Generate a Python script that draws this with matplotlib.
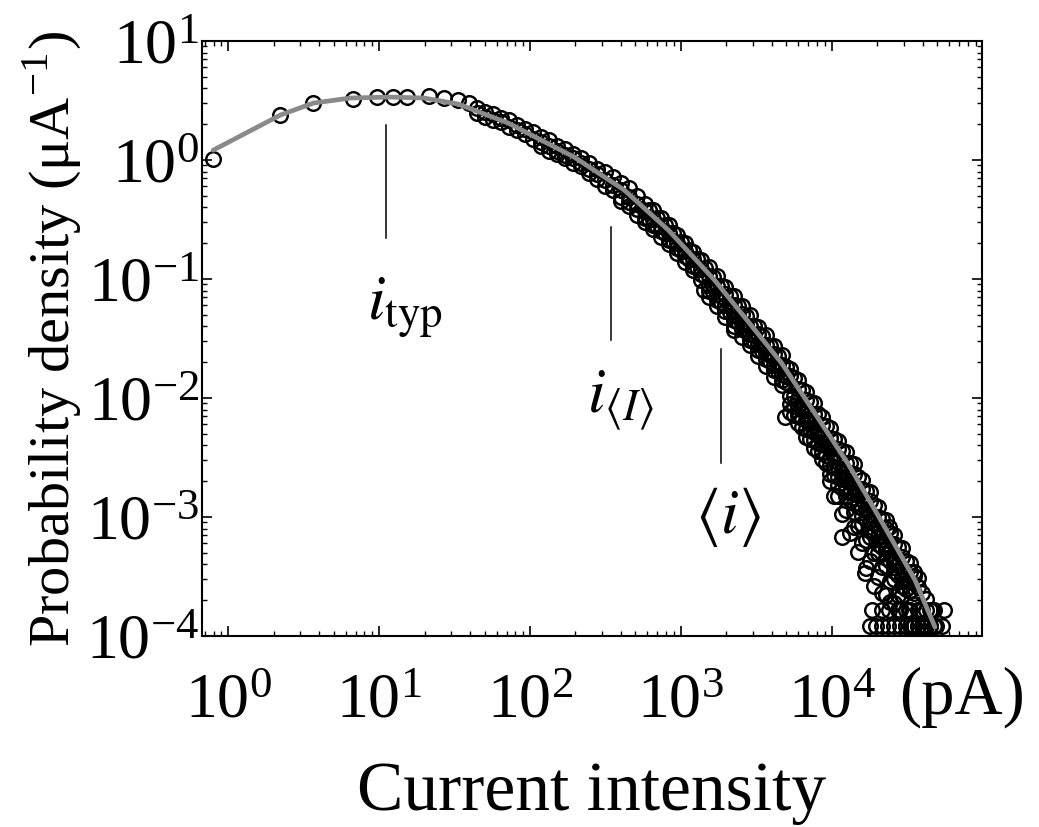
import matplotlib
matplotlib.use("Agg")
import matplotlib.pyplot as plt
import numpy as np
from matplotlib.ticker import LogLocator, NullFormatter

plt.rcParams["font.family"] = ["Liberation Serif", "DejaVu Serif"]
plt.rcParams["mathtext.fontset"] = "stix"
plt.rcParams["axes.unicode_minus"] = False

nan = np.nan

# low currents, only a few bins (pA -> uA^-1)
current_low = [0.795, 2.22, 3.67, 6.67, 9.62, 12.3, 15.2, 21.3, 26.8, 33.2, 39.3]
density_low = [1.02, 2.39, 3.01, 3.26, 3.38, 3.38, 3.38, 3.45, 3.32, 3.19, 3.01]

# bins shared by the superposed samples
current = [44.4, 50.2, 56.8, 64.2, 72.5, 82.0, 92.6, 105, 118, 134, 151, 171, 193, 218,
           247, 279, 315, 356, 402, 455, 514, 581, 656, 742, 839, 948, 1071, 1211, 1368,
           1546, 1749, 1976, 2234, 2523, 2851, 3222, 3641, 4118, 4653, 5258, 5943, 6714,
           7586, 8590, 9705, 10960, 12390, 14000, 15810, 17870, 20230, 22860, 25820,
           29170, 32960, 37240, 42170, 47640]

density_a = [2.75, 2.54, 2.45, 2.26, 2.17, 1.98, 1.81, 1.71, 1.56, 1.46, 1.32, 1.24, 1.13,
             1.04, 0.938, 0.836, 0.791, 0.723, 0.638, 0.586, 0.494, 0.424, 0.377, 0.324,
             0.287, 0.234, 0.202, 0.169, 0.145, 0.125, 0.107, 0.0855, 0.0723, 0.0590,
             0.0500, 0.0398, 0.0336, 0.0274, 0.0231, 0.0177, 0.0143, 0.0112, 0.00906,
             0.00690, 0.00558, 0.00435, 0.00352, 0.00278, 0.00206, 0.00161, 0.00122,
             0.000953, 0.000702, 0.000546, 0.000412, 0.000310, 0.000206, 0.000166]

density_b = [2.48, 2.29, 2.18, 2.08, 1.91, 1.79, 1.67, 1.51, 1.41, 1.32, 1.19, 1.11, 1.03,
             0.938, 0.836, 0.762, 0.673, 0.615, 0.562, 0.493, 0.426, 0.373, 0.317, 0.279,
             0.244, 0.201, 0.172, 0.147, 0.122, 0.106, 0.0873, 0.0745, 0.0601, 0.0508,
             0.0406, 0.0343, 0.0279, 0.0236, 0.0188, 0.0152, 0.0119, 0.00962, 0.00736,
             0.00594, 0.00465, 0.00374, 0.00286, 0.00231, 0.00173, 0.00137, 0.00101,
             0.000793, 0.000590, 0.000465, 0.000343, 0.000258, 0.000166, 0.000121]

density_c = [nan] * 8 + [1.31, 1.20, 1.13, 1.03, 0.942, 0.895, 0.780, 0.695, 0.607, 0.555,
                         0.490, 0.445, 0.384, 0.325, 0.286, 0.252, 0.213, 0.182, 0.155,
                         0.128, 0.110, 0.0885, 0.0752, 0.0605, 0.0506, 0.0423, 0.0342,
                         0.0285, 0.0238, 0.0191, 0.0160, 0.0128, 0.00991, 0.00791,
                         0.00634, 0.00489, 0.00391, 0.00311, 0.00240, 0.00184, 0.00142,
                         0.00106, 0.000824, 0.000637, 0.000474, 0.000365, 0.000282,
                         0.000166, 0.000121, nan]

density_d = [nan] * 18 + [0.452, 0.410, 0.342, 0.300, 0.264, 0.224, 0.196, 0.167, 0.138,
                          0.118, 0.0977, 0.0789, 0.0670, 0.0540, 0.0451, 0.0377, 0.0305,
                          0.0254, 0.0212, 0.0171, 0.0143, 0.0105, 0.00843, 0.00650,
                          0.00521, 0.00416, 0.00321, 0.00256, 0.00205, 0.00155, 0.00120,
                          0.000927, 0.000693, 0.000536, 0.000413, 0.000307, 0.000237,
                          0.000166, 0.000121, nan]

density_e = [nan] * 29 + [0.0703, 0.0597, 0.0481, 0.0402, 0.0324, 0.0278, 0.0224, 0.0187,
                          0.0150, 0.0129, 0.00895, 0.00718, 0.00553, 0.00444, 0.00354,
                          0.00274, 0.00218, 0.00174, 0.00132, 0.00102, 0.000789, 0.000590,
                          0.000456, 0.000352, 0.000261, 0.000166, 0.000121, nan, nan]

density_f = [nan] * 39 + [0.00762, 0.00618, 0.00466, 0.00378, 0.00305, 0.00230, 0.00185,
                          0.00150, 0.00111, 0.000867, 0.000679, 0.000497, 0.000388,
                          0.000303, 0.000220, 0.000121, nan, nan, nan]

density_g = [nan] * 44 + [0.00200, 0.00151, 0.00114, 0.000820, 0.000600, 0.000429,
                          0.000313, 0.000223, 0.000191, nan, nan, nan, nan, nan]

# samples binned half a step further on (upper part of the tail)
current_mid = [618, 698, 789, 892, 1008, 1139, 1287, 1455, 1644, 1858, 2101, 2374, 2683,
               3032, 3427, 3873, 4378, 4948, 5591, 6320, 7142, 8072, 9123, 10310, 11650,
               13170, 14890, 16820, 19010, 21490, 24290, 27450, 31020, 35060, 39630, 44790]

density_h1 = [0.377, 0.328, 0.285, 0.243, 0.205, 0.174, 0.147, 0.124, 0.104, 0.0869,
              0.0717, 0.0592, 0.0490, 0.0405, 0.0333, 0.0275, 0.0227, 0.0183, 0.0148,
              0.0117, 0.00928, 0.00734, 0.00579, 0.00457, 0.00361, 0.00282, 0.00217,
              0.00166, 0.00127, 0.000972, 0.000741, 0.000564, 0.000430, 0.000322,
              0.000230, 0.000166]

density_h2 = [0.321, 0.279, 0.242, 0.207, 0.175, 0.148, 0.125, 0.106, 0.0869, 0.0723,
              0.0596, 0.0493, 0.0407, 0.0337, 0.0277, 0.0229, 0.0189, 0.0152, 0.0105,
              0.00831, 0.00657, 0.00520, 0.00410, 0.00324, 0.00255, 0.00200, 0.00153,
              0.00117, 0.000899, 0.000688, 0.000525, 0.000400, 0.000304, 0.000228,
              0.000166, 0.000121]

density_h3 = [nan] * 8 + [0.0774, 0.0644, 0.0531, 0.0439, 0.0363, 0.0300, 0.0247, 0.0204,
                         0.0168, 0.0136, 0.00854, 0.00675, 0.00534, 0.00422, 0.00333,
                         0.00263, 0.00208, 0.00162, 0.00125, 0.000955, 0.000731,
                         0.000559, 0.000427, 0.000325, 0.000248, 0.000185, 0.000121, nan]

density_h4 = [nan] * 18 + [0.00727, 0.00575, 0.00454, 0.00359, 0.00284, 0.00224, 0.00177,
                          0.00138, 0.000843, 0.000646, 0.000494, 0.000378, 0.000288,
                          0.000220, 0.000166, 0.000121, nan, nan]

density_h5 = [nan] * 23 + [0.00151, 0.00106, 0.000741, 0.000508, 0.000372, 0.000265,
                          0.000228, 0.000195, 0.000166, 0.000121, nan, nan, nan]

# single-event rows at the bottom of the tail
current_floor1 = [17890, 19610, 21490, 23560, 25820, 28300, 31020, 34010, 37270, 40860,
                  44790, 49090, 53810]
density_floor1 = [1.21e-4, 1.21e-4, 1.21e-4, 1.21e-4, 1.21e-4, 1.21e-4, 1.21e-4, 1.21e-4,
                  1.21e-4, 1.21e-4, 1.21e-4, 1.21e-4, 1.21e-4]
current_floor2 = [18450, 21490, 23930, 28300, 32480, 37840, 46150, 55500]
density_floor2 = [1.66e-4, 1.66e-4, 1.66e-4, 1.66e-4, 1.66e-4, 1.66e-4, 1.66e-4, 1.66e-4]

current_out = [1432, 2267, 4873, 11650, 16560, 23930, 35070]
density_out = [0.0809, 0.0372, 0.00692, 0.000679, 0.000338, 0.000824, 0.000345]

# fitted distribution (grey line)
fit_current = [0.795, 2.22, 3.67, 6.47, 11.9, 19.8, 33.2, 71.4, 196, 421, 826, 1670, 2810,
               4650, 7710, 12970, 21490, 35600, 48330]
fit_density = [1.21, 2.39, 3.01, 3.32, 3.38, 3.32, 2.96, 2.05, 1.06, 0.560, 0.258, 0.0982,
               0.0435, 0.0197, 0.00748, 0.00274, 0.000908, 0.000296, 0.000119]

# characteristic currents (pA) and the extent of their marker lines
i_typ, i_typ_span = 11.05, (0.221, 1.97)
i_med, i_med_span = 345, (0.0307, 0.274)
i_mean, i_mean_span = 1858, (0.00284, 0.0258)

fig = plt.figure(figsize=(10.39, 8.27), dpi=100)
ax = fig.add_axes([0.1944, 0.2309, 0.7507, 0.7195])
ax.set_xscale("log")
ax.set_yscale("log")

mk = dict(marker="o", ls="none", mfc="none", mec="k", ms=10.5, mew=1.75, zorder=2)
ax.plot(current_low, density_low, **mk)
for dens in [density_a, density_b, density_c, density_d, density_e, density_f, density_g]:
    ax.plot(current, dens, **mk)
for dens in [density_h1, density_h2, density_h3, density_h4, density_h5]:
    ax.plot(current_mid, dens, **mk)
ax.plot(current_floor1, density_floor1, **mk)
ax.plot(current_floor2, density_floor2, **mk)
ax.plot(current_out, density_out, **mk)

ax.plot(fit_current, fit_density, color="#8a8a8a", lw=3.4, zorder=3,
        solid_capstyle="round", solid_joinstyle="round")

for xv, (lo, hi), lab, (dx, dy) in [
    (i_typ, i_typ_span, r"$i_{\mathrm{typ}}$", (14, -50)),
    (i_med, i_med_span, r"$i_{\langle I\rangle}$", (7, -43)),
    (i_mean, i_mean_span, r"$\langle i\rangle$", (5, -39)),
]:
    ax.plot([xv, xv], [lo, hi], color="k", lw=1.1, zorder=4)
    ax.annotate(lab, xy=(xv, lo), xytext=(dx, dy), textcoords="offset points",
                ha="center", va="center", fontsize=46)

ax.set_xlim(0.67, 9.9e4)
ax.set_ylim(1e-4, 10)
ax.set_xticks([1, 10, 100, 1e3, 1e4])
ax.yaxis.set_major_locator(LogLocator(base=10, numticks=10))
ax.xaxis.set_minor_locator(LogLocator(base=10, subs=np.arange(2, 10), numticks=20))
ax.yaxis.set_minor_locator(LogLocator(base=10, subs=np.arange(2, 10), numticks=20))
ax.xaxis.set_minor_formatter(NullFormatter())
ax.yaxis.set_minor_formatter(NullFormatter())

ax.tick_params(which="both", direction="in", top=True, right=True, labelsize=46)
ax.tick_params(which="major", length=7, width=1.2)
ax.tick_params(which="minor", length=3.5, width=1.0)
ax.tick_params(axis="x", pad=27)
ax.tick_params(axis="y", pad=2)
for sp in ax.spines.values():
    sp.set_linewidth(1.5)

ax.set_xlabel("Current intensity", fontsize=50)
ax.xaxis.set_label_coords(0.5, -0.21)
ax.set_ylabel("Probability density (\u03bcA$^{\\mathregular{-1}}$)", fontsize=42)
ax.yaxis.set_label_coords(-0.152, 0.5)

fig.text(962 / 1039, 0.157, "(pA)", ha="center", va="center", fontsize=48)

fig.savefig("out.png", dpi=100)
